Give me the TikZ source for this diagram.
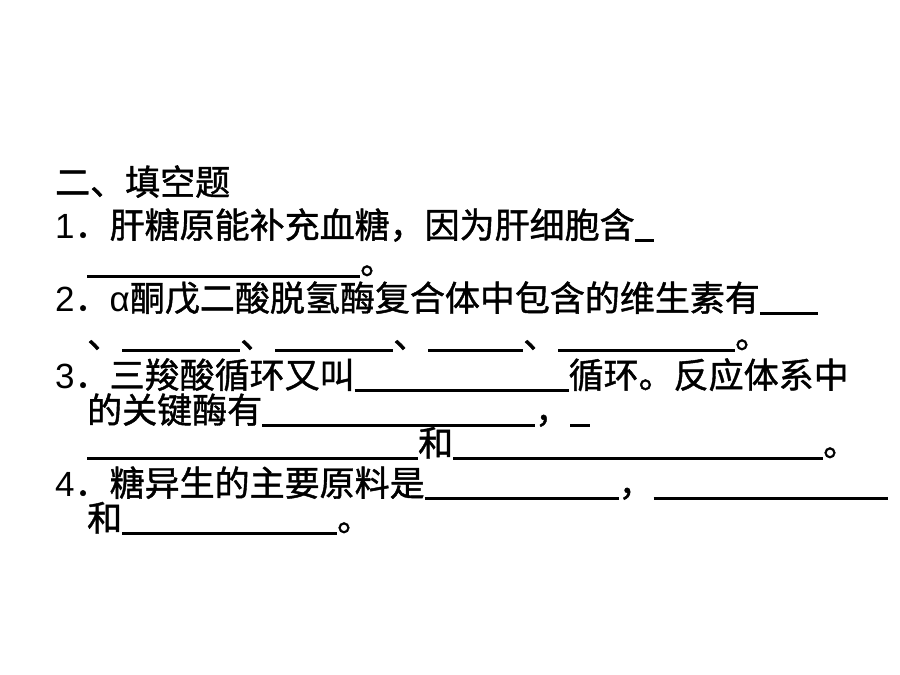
\documentclass[tikz,border=0pt]{standalone}
\usepackage{fontspec}
\usepackage{tikz}
\setmainfont{Liberation Sans}
\newfontfamily\cjk[BoldFont=Noto Sans CJK SC, BoldFeatures={FakeBold=1.2}]{Noto Sans CJK SC}
\newcommand\lat[1]{{\normalfont #1}}
\newcommand\blank[1]{\rule[-3.5pt]{#1pt}{2.4pt}}

\begin{document}
\begin{tikzpicture}[x=1pt, y=-1pt, txt/.style={anchor=base west, inner sep=0pt, font=\cjk\bfseries\fontsize{35}{35}\selectfont}]
						\useasboundingbox[fill=white] (0,0) rectangle (900,675);
						\node[txt] (title) at (55,195) {二、填空题};
						\node[txt] (q1) at (55,238) {\lat{1}．肝糖原能补充血糖，因为肝细胞含\blank{19.5}};
						\node[txt] (q1b) at (87,274) {\blank{273}。};
						\node[txt] (q2) at (55,311) {\lat{2}．\lat{α}酮戊二酸脱氢酶复合体中包含的维生素有\blank{58}};
						\node[txt] (q2b) at (87,348) {、\blank{118}、\blank{118}、\blank{95}、\blank{177}。};
						\node[txt] (q3) at (55,388) {\lat{3}．三羧酸循环又叫\blank{214}循环。反应体系中};
						\node[txt] (q3b) at (87,423) {的关键酶有\blank{273}，\blank{19.5}};
						\node[txt] (q3c) at (87,456) {\blank{331}和\blank{370}。};
						\node[txt] (q4) at (55,496) {\lat{4}．糖异生的主要原料是\blank{194}，\blank{234}};
						\node[txt] (q4b) at (87,531) {和\blank{215}。};
					\end{tikzpicture}
\end{document}
